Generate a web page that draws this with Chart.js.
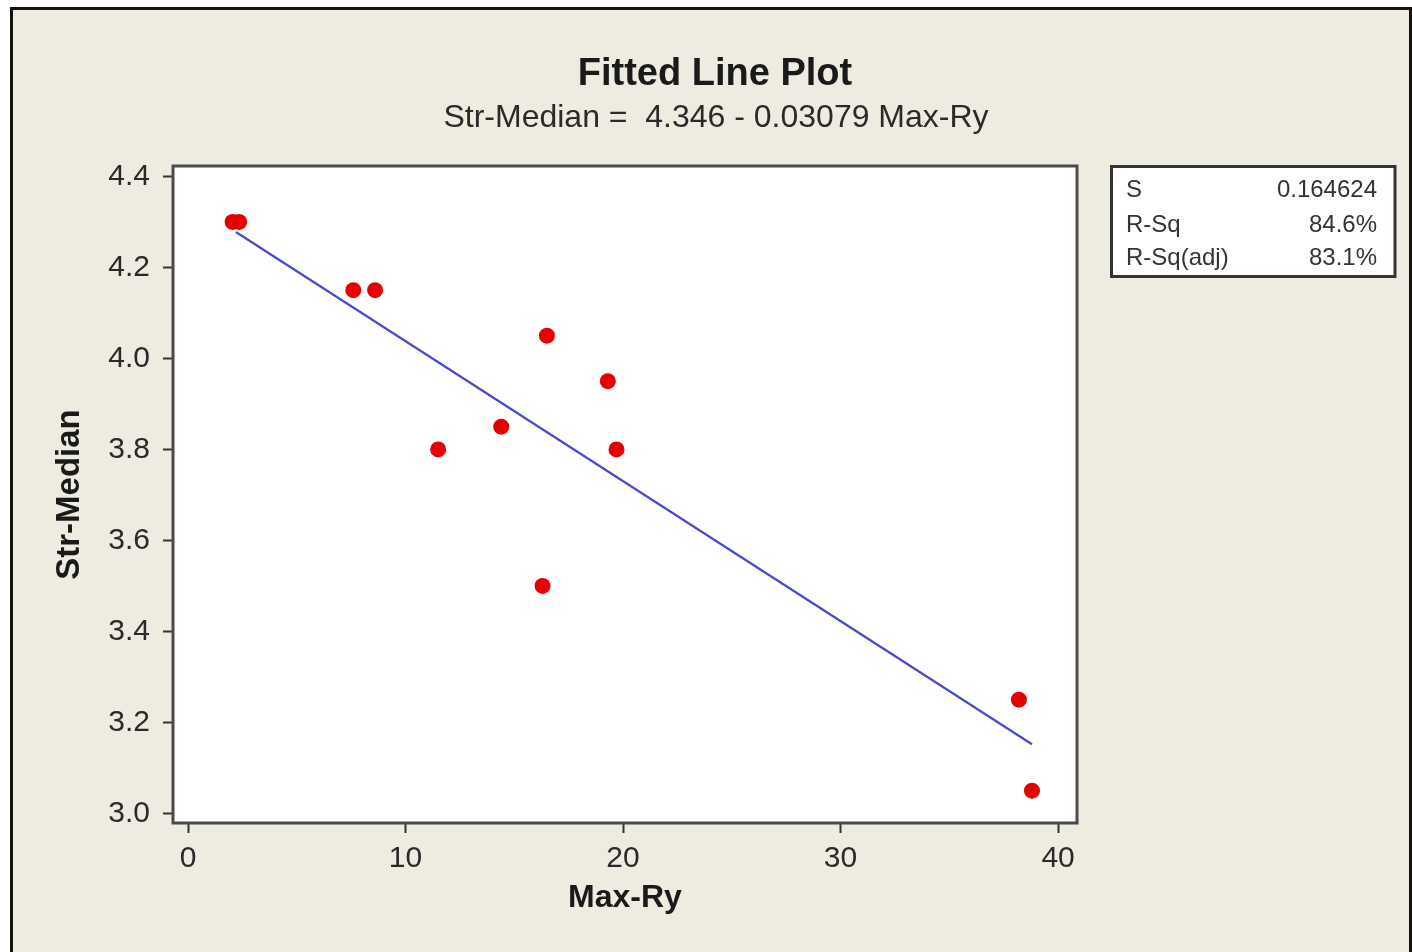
<!DOCTYPE html>
<html lang="en">
<head>
    <meta charset="UTF-8">
    <title>Fitted Line Plot</title>
    <style>
        html, body {
            margin: 0;
            padding: 0;
            background: #ffffff;
        }
        #plot {
            display: block;
        }
    </style>
</head>
<body>
    <canvas id="plot" width="1412" height="952"></canvas>

    <script src="https://cdn.jsdelivr.net/npm/chart.js"></script>
    <script>
        // observed values
        const maxRy = [2.05, 2.35, 7.6, 8.6, 11.5, 14.4, 16.3, 16.5, 19.3, 19.7, 38.2, 38.8];
        const strMedian = [4.30, 4.30, 4.15, 4.15, 3.80, 3.85, 3.50, 4.05, 3.95, 3.80, 3.25, 3.05];

        // fitted line end points
        const fitX = [2.2, 38.8];
        const fitY = [4.278, 3.152];

        const xTicks = [0, 10, 20, 30, 40];
        const yTicks = [3.0, 3.2, 3.4, 3.6, 3.8, 4.0, 4.2, 4.4];

        const titleText = 'Fitted Line Plot';
        const subtitleText = 'Str-Median =  4.346 - 0.03079 Max-Ry';
        const statLabels = ['S', 'R-Sq', 'R-Sq(adj)'];
        const statValues = ['0.164624', '84.6%', '83.1%'];

        const FONT = "'Liberation Sans', Arial, sans-serif";
        const BG = '#eeebe1';

        const framePlugin = {
            id: 'frame',
            beforeDraw(chart) {
                const c = chart.ctx;
                const a = chart.chartArea;
                c.save();
                c.fillStyle = BG;
                c.fillRect(11, 8, chart.width - 12, chart.height - 8);
                c.fillStyle = '#ffffff';
                c.fillRect(a.left, a.top, a.right - a.left, a.bottom - a.top);
                c.restore();
            },
            beforeDatasetsDraw(chart) {
                const c = chart.ctx;
                const a = chart.chartArea;
                c.save();
                c.strokeStyle = '#4a4a4a';
                c.lineWidth = 3;
                c.strokeRect(a.left, a.top, a.right - a.left, a.bottom - a.top);
                c.restore();
            },
            afterDraw(chart) {
                const c = chart.ctx;
                c.save();

                // outer window frame
                c.strokeStyle = '#18120c';
                c.lineWidth = 3;
                c.beginPath();
                c.moveTo(11.5, 952);
                c.lineTo(11.5, 8.5);
                c.lineTo(1410.5, 8.5);
                c.lineTo(1410.5, 952);
                c.stroke();

                // titles
                c.fillStyle = '#1a1a1a';
                c.textAlign = 'center';
                c.textBaseline = 'middle';
                c.font = 'bold 38px ' + FONT;
                c.fillText(titleText, 715, 75);
                c.font = '32px ' + FONT;
                c.fillStyle = '#2a2a2a';
                c.fillText(subtitleText, 716, 118);

                // summary box
                c.fillStyle = '#ffffff';
                c.fillRect(1111, 166, 284, 110);
                c.strokeStyle = '#333333';
                c.lineWidth = 3;
                c.strokeRect(1111.5, 166.5, 283.5, 110);
                c.font = '24px ' + FONT;
                c.fillStyle = '#333333';
                const rowY = [190, 225, 258];
                statLabels.forEach((label, i) => {
                    c.textAlign = 'left';
                    c.fillText(label, 1126, rowY[i]);
                    c.textAlign = 'right';
                    c.fillText(statValues[i], 1377, rowY[i]);
                });
                c.restore();
            }
        };

        const ctx = document.getElementById('plot').getContext('2d');
        const chart = new Chart(ctx, {
            type: 'scatter',
            data: {
                datasets: [
                    {
                        label: 'Str-Median',
                        data: maxRy.map((x, i) => ({ x: x, y: strMedian[i] })),
                        backgroundColor: '#e60000',
                        borderColor: '#e60000',
                        borderWidth: 0,
                        pointRadius: 8,
                        order: 0
                    },
                    {
                        label: 'Fit',
                        type: 'line',
                        data: fitX.map((x, i) => ({ x: x, y: fitY[i] })),
                        borderColor: '#4a4ad0',
                        borderWidth: 2.2,
                        pointRadius: 0,
                        fill: false,
                        order: 1
                    }
                ]
            },
            options: {
                responsive: false,
                animation: false,
                events: [],
                layout: {
                    padding: { top: 166, right: 335, bottom: 0, left: 12 }
                },
                plugins: {
                    legend: { display: false },
                    tooltip: { enabled: false }
                },
                scales: {
                    x: {
                        type: 'linear',
                        min: -0.69,
                        max: 40.87,
                        afterBuildTicks: (scale) => {
                            scale.ticks = xTicks.map(v => ({ value: v }));
                        },
                        afterFit: (scale) => {
                            scale.height = 129;
                        },
                        border: { display: false },
                        grid: {
                            drawOnChartArea: false,
                            drawTicks: true,
                            tickLength: 10,
                            tickWidth: 2,
                            tickColor: '#333333'
                        },
                        ticks: {
                            padding: 8,
                            color: '#2a2a2a',
                            font: { family: FONT, size: 30 },
                            maxRotation: 0
                        },
                        title: {
                            display: true,
                            text: 'Max-Ry',
                            color: '#1a1a1a',
                            font: { family: FONT, size: 32, weight: 'bold' },
                            padding: { top: 0, bottom: 35 }
                        }
                    },
                    y: {
                        type: 'linear',
                        min: 2.979,
                        max: 4.423,
                        afterBuildTicks: (scale) => {
                            scale.ticks = yTicks.map(v => ({ value: v }));
                        },
                        afterFit: (scale) => {
                            scale.width = 161;
                        },
                        border: { display: false },
                        grid: {
                            drawOnChartArea: false,
                            drawTicks: true,
                            tickLength: 10,
                            tickWidth: 2,
                            tickColor: '#333333'
                        },
                        ticks: {
                            padding: 13,
                            color: '#2a2a2a',
                            font: { family: FONT, size: 30 },
                            callback: (v) => Number(v).toFixed(1)
                        },
                        title: {
                            display: true,
                            text: 'Str-Median',
                            color: '#1a1a1a',
                            font: { family: FONT, size: 33, weight: 'bold' },
                            padding: { top: 38, bottom: 0 }
                        }
                    }
                }
            },
            plugins: [framePlugin]
        });
    </script>
</body>
</html>
